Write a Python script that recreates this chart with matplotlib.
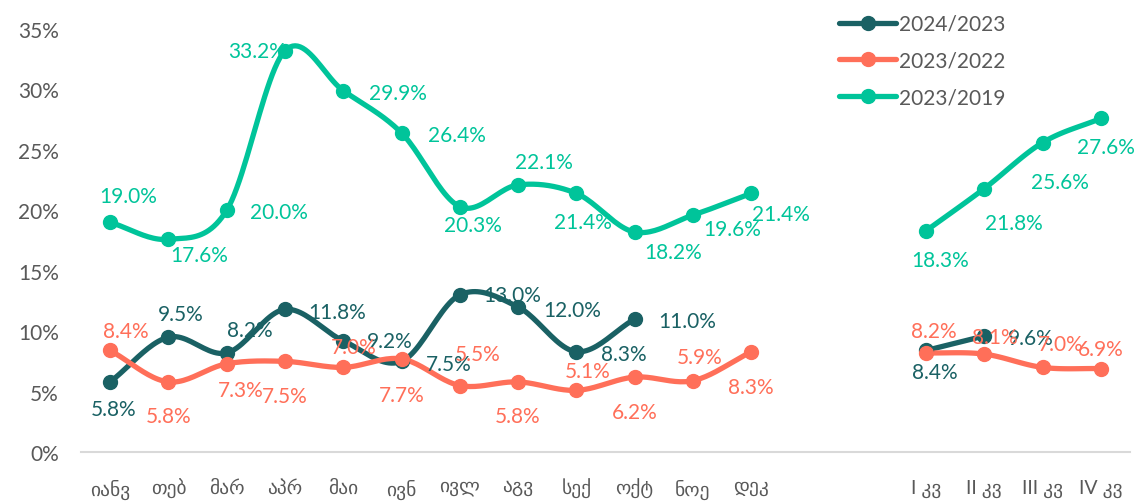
import matplotlib
matplotlib.use('Agg')

import numpy as np
import matplotlib.pyplot as plt
from matplotlib.lines import Line2D

plt.rcParams['font.family'] = ['Lato', 'DejaVu Sans']

# categories
months = ['იანვ', 'თებ', 'მარ', 'აპრ', 'მაი', 'ივნ', 'ივლ', 'აგვ', 'სექ', 'ოქტ', 'ნოე', 'დეკ']
quarters = ['I კვ', 'II კვ', 'III კვ', 'IV კვ']

# series values (%)
s2024_m = [5.8, 9.5, 8.2, 11.8, 9.2, 7.5, 13.0, 12.0, 8.3, 11.0]
s2024_q = [8.4, 9.6]
s2023_m = [8.4, 5.8, 7.3, 7.5, 7.0, 7.7, 5.5, 5.8, 5.1, 6.2, 5.9, 8.3]
s2023_q = [8.2, 8.1, 7.0, 6.9]
s2019_m = [19.0, 17.6, 20.0, 33.2, 29.9, 26.4, 20.3, 22.1, 21.4, 18.2, 19.6, 21.4]
s2019_q = [18.3, 21.8, 25.6, 27.6]

names = ['2024/2023', '2023/2022', '2023/2019']
colors = ['#1A6164', '#FF6F59', '#00C49A']

# label offsets in pixels (dx, dy), style only
off_2024 = [(3, -27), (12, 23), (23, 23), (52, -3), (47, 0), (47, -3), (52, 0),
            (54, -3), (47, -2), (53, -2), (9, -22), (46, -2)]
off_2023 = [(16, 19), (0, -34), (14, -26), (0, -35), (11, 20), (0, -36), (18, 32),
            (0, -34), (11, 19), (0, -35), (7, 24), (0, -35),
            (8, 22), (11, 17), (18, 23), (0, 20)]
off_2019 = [(18, 26), (31, -16), (52, -2), (-28, 0), (55, -2), (55, -2), (13, -18),
            (26, 23), (7, -29), (39, -20), (39, -14), (30, -21),
            (14, -29), (30, -34), (17, -39), (5, -29)]

QSTART = 14  # two empty slots between Dec and I kv


def smooth(x, y, n=24):
    # Catmull-Rom through the points, like Excel's smoothed line
    x = np.asarray(x, float)
    y = np.asarray(y, float)
    if len(x) < 3:
        return np.linspace(x[0], x[-1], n), np.linspace(y[0], y[-1], n)
    px = np.concatenate([[2 * x[0] - x[1]], x, [2 * x[-1] - x[-2]]])
    py = np.concatenate([[2 * y[0] - y[1]], y, [2 * y[-1] - y[-2]]])
    t = np.linspace(0, 1, n)
    ox, oy = [], []
    for i in range(1, len(px) - 2):
        for p, o in ((px, ox), (py, oy)):
            p0, p1, p2, p3 = p[i - 1], p[i], p[i + 1], p[i + 2]
            c1 = p1 + (p2 - p0) / 6.0
            c2 = p2 - (p3 - p1) / 6.0
            seg = ((1 - t) ** 3 * p1 + 3 * (1 - t) ** 2 * t * c1
                   + 3 * (1 - t) * t ** 2 * c2 + t ** 3 * p2)
            o.extend(seg if i == 1 else seg[1:])
    return np.array(ox), np.array(oy)


fig = plt.figure(figsize=(11.4, 5.02), dpi=100)
ax = fig.add_axes([81 / 1140, 1 - 453 / 502, 1049 / 1140, 423 / 502])

series = [(s2024_m, s2024_q, off_2024), (s2023_m, s2023_q, off_2023), (s2019_m, s2019_q, off_2019)]
for (vm, vq, offs), c in zip(series, colors):
    xm = np.arange(len(vm))
    xq = QSTART + np.arange(len(vq))
    for xs, vs in ((xm, vm), (xq, vq)):
        sx, sy = smooth(xs, np.array(vs) / 100)
        ax.plot(sx, sy, color=c, lw=3.8, solid_capstyle='round', zorder=2)
        ax.plot(xs, np.array(vs) / 100, 'o', color=c, ms=10, zorder=3)
    allx = list(xm) + list(xq)
    allv = list(vm) + list(vq)
    for xi, v, (dx, dy) in zip(allx, allv, offs):
        ax.annotate(f'{v:.1f}%', (xi, v / 100), xytext=(dx, dy), textcoords='offset pixels',
                    ha='center', va='center', color=c, fontsize=15, zorder=4)

ax.set_xlim(-0.5, QSTART + len(quarters) - 0.5)
ax.set_ylim(0, 0.35)
ax.set_yticks(np.arange(0, 0.351, 0.05))
ax.set_yticklabels([f'{int(round(v * 100))}%' for v in np.arange(0, 0.351, 0.05)])
ax.set_xticks(list(range(len(months))) + list(QSTART + np.arange(len(quarters))))
ax.set_xticklabels(months + quarters)
ax.tick_params(axis='both', length=0, labelcolor='#595959')
ax.tick_params(axis='x', pad=19, labelsize=14)
ax.tick_params(axis='y', pad=16, labelsize=15)
for s in ['top', 'right', 'left']:
    ax.spines[s].set_visible(False)
ax.spines['bottom'].set_color('#D9D9D9')
ax.spines['bottom'].set_linewidth(1.5)

handles = [Line2D([], [], color=c, lw=3.8, marker='o', ms=10, solid_capstyle='round') for c in colors]
fig.legend(handles, names, loc='upper left', bbox_to_anchor=(839 / 1140, 1 - 15 / 502),
           frameon=False, fontsize=15, labelcolor='#595959', handlelength=2.75,
           handletextpad=0.15, labelspacing=0.8, borderpad=0, borderaxespad=0)

fig.savefig('out.png', dpi=100)
